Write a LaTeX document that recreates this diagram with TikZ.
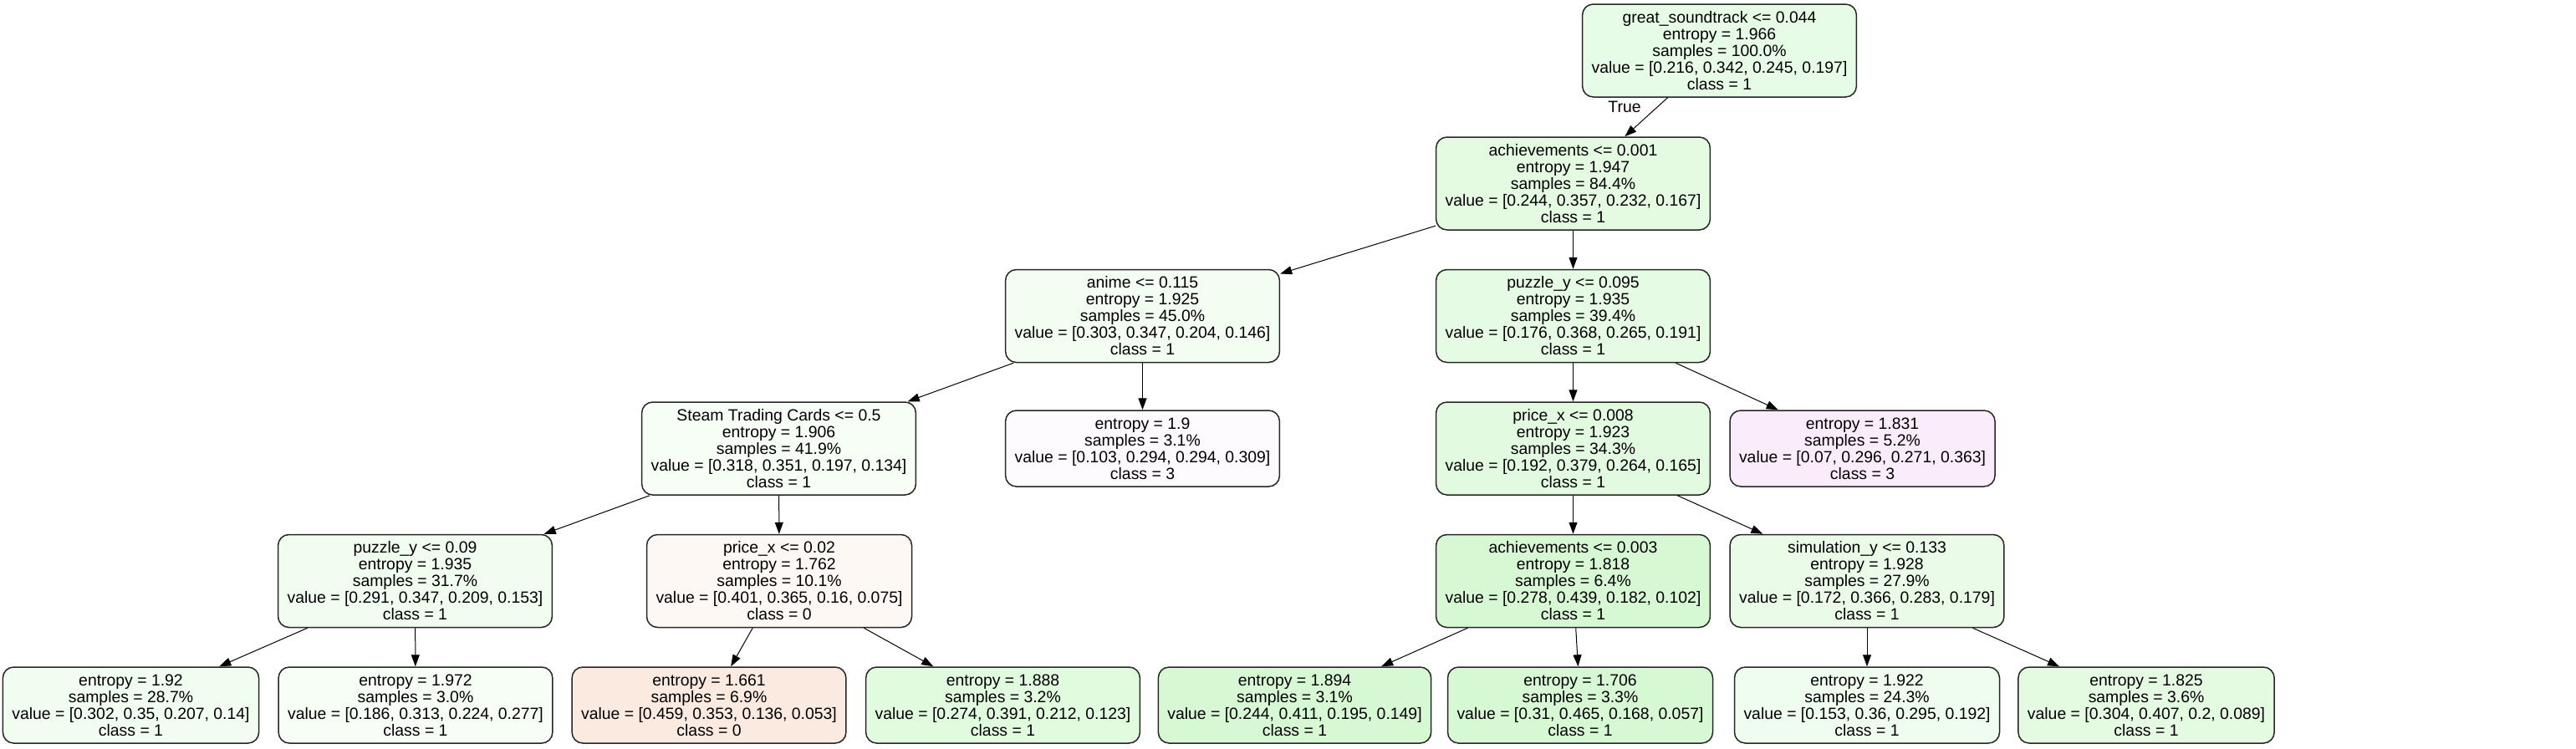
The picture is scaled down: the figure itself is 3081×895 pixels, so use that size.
\documentclass[tikz,border=0pt]{standalone}
\usepackage{fontspec}
\setmainfont{Liberation Sans}
\usetikzlibrary{arrows.meta}
\definecolor{cRoot}{RGB}{231,252,230}
\definecolor{cAchA}{RGB}{228,251,225}
\definecolor{cAnime}{RGB}{243,253,242}
\definecolor{cAnimeLf}{RGB}{254,251,254}
\definecolor{cPuzA}{RGB}{229,251,227}
\definecolor{cSteam}{RGB}{246,254,245}
\definecolor{cPriceA}{RGB}{226,251,224}
\definecolor{cLfP}{RGB}{251,236,252}
\definecolor{cPuzB}{RGB}{240,253,239}
\definecolor{cPriceB}{RGB}{253,248,244}
\definecolor{cAchB}{RGB}{214,249,211}
\definecolor{cSim}{RGB}{234,252,232}
\definecolor{cLfA}{RGB}{242,253,241}
\definecolor{cLfB}{RGB}{246,254,245}
\definecolor{cLfC}{RGB}{251,234,223}
\definecolor{cLfD}{RGB}{225,251,223}
\definecolor{cLfE}{RGB}{214,249,211}
\definecolor{cLfF}{RGB}{214,249,211}
\definecolor{cLfG}{RGB}{238,253,237}
\definecolor{cLfH}{RGB}{228,251,226}
\begin{document}
\begin{tikzpicture}[x=0.5pt,y=-0.5pt,
  tn/.style={draw=black!85, line width=0.75pt, rounded corners=6.5pt, align=center,
    font=\fontsize{9.7}{10}\selectfont, inner xsep=5.5pt, inner ysep=0pt, minimum height=55.5pt},
  lf/.style={tn, minimum height=45.5pt},
  conn/.style={-{Triangle[length=7pt,width=5pt]}, line width=0.5pt},
  lbl/.style={font=\fontsize{9.7}{10}\selectfont, inner sep=0pt}]
\useasboundingbox (0,0) rectangle (3081,895);
\fill[white] (0,0) rectangle (3081,895);

% level 0
\node[tn, fill=cRoot] (root) at (2056.5,60.5) {great\_soundtrack <= 0.044\\entropy = 1.966\\samples = 100.0\%\\value = [0.216, 0.342, 0.245, 0.197]\\class = 1};
% level 1
\node[tn, fill=cAchA] (achA) at (1881.5,219.5) {achievements <= 0.001\\entropy = 1.947\\samples = 84.4\%\\value = [0.244, 0.357, 0.232, 0.167]\\class = 1};
% level 2
\node[tn, fill=cAnime] (anime) at (1366.5,378) {anime <= 0.115\\entropy = 1.925\\samples = 45.0\%\\value = [0.303, 0.347, 0.204, 0.146]\\class = 1};
\node[tn, fill=cPuzA] (puzA) at (1881.5,378) {puzzle\_y <= 0.095\\entropy = 1.935\\samples = 39.4\%\\value = [0.176, 0.368, 0.265, 0.191]\\class = 1};
% level 3
\node[tn, fill=cSteam] (steam) at (931.5,536.5) {Steam Trading Cards <= 0.5\\entropy = 1.906\\samples = 41.9\%\\value = [0.318, 0.351, 0.197, 0.134]\\class = 1};
\node[lf, fill=cAnimeLf] (animelf) at (1366.5,536.5) {entropy = 1.9\\samples = 3.1\%\\value = [0.103, 0.294, 0.294, 0.309]\\class = 3};
\node[tn, fill=cPriceA] (priceA) at (1881.5,536.5) {price\_x <= 0.008\\entropy = 1.923\\samples = 34.3\%\\value = [0.192, 0.379, 0.264, 0.165]\\class = 1};
\node[lf, fill=cLfP] (lfP) at (2227.5,536.5) {entropy = 1.831\\samples = 5.2\%\\value = [0.07, 0.296, 0.271, 0.363]\\class = 3};
% level 4
\node[tn, fill=cPuzB] (puzB) at (496.5,695) {puzzle\_y <= 0.09\\entropy = 1.935\\samples = 31.7\%\\value = [0.291, 0.347, 0.209, 0.153]\\class = 1};
\node[tn, fill=cPriceB] (priceB) at (932,695) {price\_x <= 0.02\\entropy = 1.762\\samples = 10.1\%\\value = [0.401, 0.365, 0.16, 0.075]\\class = 0};
\node[tn, fill=cAchB] (achB) at (1881.5,695) {achievements <= 0.003\\entropy = 1.818\\samples = 6.4\%\\value = [0.278, 0.439, 0.182, 0.102]\\class = 1};
\node[tn, fill=cSim] (sim) at (2233,695) {simulation\_y <= 0.133\\entropy = 1.928\\samples = 27.9\%\\value = [0.172, 0.366, 0.283, 0.179]\\class = 1};
% level 5
\node[lf, fill=cLfA] (lfA) at (156.5,843.5) {entropy = 1.92\\samples = 28.7\%\\value = [0.302, 0.35, 0.207, 0.14]\\class = 1};
\node[lf, fill=cLfB] (lfB) at (497,843.5) {entropy = 1.972\\samples = 3.0\%\\value = [0.186, 0.313, 0.224, 0.277]\\class = 1};
\node[lf, fill=cLfC] (lfC) at (848,843.5) {entropy = 1.661\\samples = 6.9\%\\value = [0.459, 0.353, 0.136, 0.053]\\class = 0};
\node[lf, fill=cLfD] (lfD) at (1199.5,843.5) {entropy = 1.888\\samples = 3.2\%\\value = [0.274, 0.391, 0.212, 0.123]\\class = 1};
\node[lf, fill=cLfE] (lfE) at (1548.5,843.5) {entropy = 1.894\\samples = 3.1\%\\value = [0.244, 0.411, 0.195, 0.149]\\class = 1};
\node[lf, fill=cLfF] (lfF) at (1890,843.5) {entropy = 1.706\\samples = 3.3\%\\value = [0.31, 0.465, 0.168, 0.057]\\class = 1};
\node[lf, fill=cLfG] (lfG) at (2233,843.5) {entropy = 1.922\\samples = 24.3\%\\value = [0.153, 0.36, 0.295, 0.192]\\class = 1};
\node[lf, fill=cLfH] (lfH) at (2567,843.5) {entropy = 1.825\\samples = 3.6\%\\value = [0.304, 0.407, 0.2, 0.089]\\class = 1};

% edges
\draw[conn] (root) -- (achA);
\node[lbl] (truelbl) at (1943,128) {True};
\draw[conn] (achA) -- (anime);
\draw[conn] (achA) -- (puzA);
\draw[conn] (anime) -- (steam);
\draw[conn] (anime) -- (animelf);
\draw[conn] (puzA) -- (priceA);
\draw[conn] (puzA) -- (lfP);
\draw[conn] (steam) -- (puzB);
\draw[conn] (steam) -- (priceB);
\draw[conn] (priceA) -- (achB);
\draw[conn] (priceA) -- (sim);
\draw[conn] (puzB) -- (lfA);
\draw[conn] (puzB) -- (lfB);
\draw[conn] (priceB) -- (lfC);
\draw[conn] (priceB) -- (lfD);
\draw[conn] (achB) -- (lfE);
\draw[conn] (achB) -- (lfF);
\draw[conn] (sim) -- (lfG);
\draw[conn] (sim) -- (lfH);
\end{tikzpicture}
\end{document}
